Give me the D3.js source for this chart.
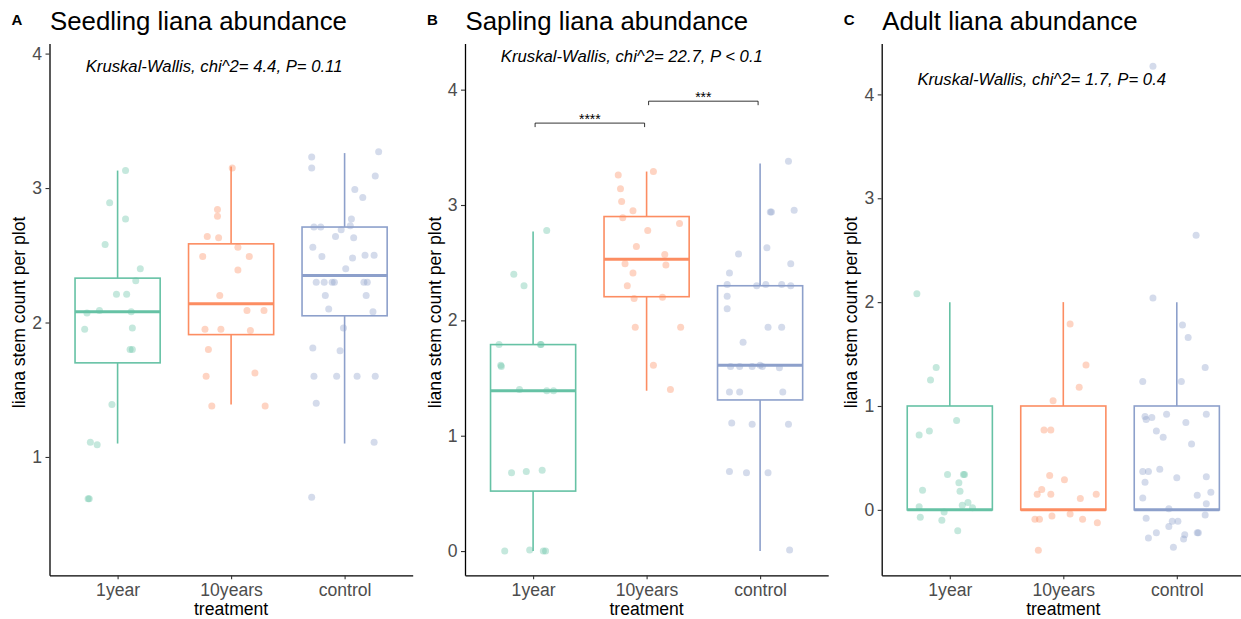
<!DOCTYPE html>
<html>
<head>
<meta charset="utf-8">
<script src="https://cdn.jsdelivr.net/npm/d3@7"></script>
<style>
  body { margin: 0; background: #fff; }
  svg { display: block; font-family: Arial, "Liberation Sans", sans-serif; }
</style>
</head>
<body>
<svg width="1241" height="619"></svg>
<script>
// categories and colours (Set2)
const categories = ["1year", "10years", "control"];
const boxColors = ["#66C2A5", "#FC8D62", "#8DA0CB"];

// box stats per category: [lower whisker, q1, median, q3, upper whisker]
const seedlingBoxes = [
  [1.10, 1.70, 2.08, 2.33, 3.13],
  [1.39, 1.91, 2.14, 2.585, 3.16],
  [1.10, 2.05, 2.35, 2.71, 3.26]
];
const saplingBoxes = [
  [0, 0.52, 1.39, 1.79, 2.77],
  [1.39, 2.205, 2.53, 2.90, 3.29],
  [0, 1.31, 1.61, 2.30, 3.36]
];
const adultBoxes = [
  [0, 0, 0, 1, 2],
  [0, 0, 0, 1, 2],
  [0, 0, 0, 1, 2]
];

// jittered points: [category index, jitter offset, value]
const seedlingPoints = [
  [0, 0.07, 3.13], [0, -0.07, 2.89], [0, 0.07, 2.77], [0, -0.11, 2.58], [0, 0.20, 2.40],
  [0, 0.16, 2.31], [0, -0.01, 2.21], [0, 0.08, 2.21], [0, -0.27, 2.07], [0, -0.16, 2.09],
  [0, 0.12, 2.08], [0, -0.29, 1.95], [0, 0.13, 1.96], [0, 0.11, 1.80], [0, 0.13, 1.80],
  [0, -0.05, 1.39], [0, -0.24, 1.11], [0, -0.18, 1.09], [0, -0.26, 0.69], [0, -0.25, 0.69],
  [1, 0.01, 3.15], [1, -0.12, 2.84], [1, -0.12, 2.79], [1, -0.21, 2.64], [1, -0.11, 2.63],
  [1, 0.06, 2.56], [1, -0.25, 2.49], [1, 0.16, 2.49], [1, 0.06, 2.39], [1, -0.10, 2.20],
  [1, 0.14, 2.09], [1, 0.29, 2.09], [1, -0.23, 1.95], [1, -0.09, 1.95], [1, 0.17, 1.94],
  [1, -0.20, 1.80], [1, -0.22, 1.60], [1, 0.21, 1.625], [1, -0.17, 1.38], [1, 0.30, 1.38],
  [2, -0.29, 3.23], [2, -0.29, 3.15], [2, 0.30, 3.27], [2, 0.27, 3.09], [2, 0.09, 2.99],
  [2, 0.16, 2.93], [2, 0.06, 2.77], [2, -0.27, 2.71], [2, -0.21, 2.71], [2, -0.03, 2.69],
  [2, 0.05, 2.72], [2, -0.08, 2.64], [2, 0.08, 2.63], [2, -0.28, 2.56], [2, -0.20, 2.49],
  [2, 0.07, 2.48], [2, 0.18, 2.50], [2, 0.26, 2.50], [2, 0.01, 2.40], [2, -0.25, 2.30],
  [2, -0.18, 2.30], [2, -0.11, 2.30], [2, -0.09, 2.30], [2, 0.17, 2.30], [2, 0.20, 2.30],
  [2, -0.17, 2.20], [2, 0.19, 2.20], [2, -0.14, 2.10], [2, 0.25, 2.08], [2, -0.01, 1.96],
  [2, -0.28, 1.81], [2, -0.04, 1.79], [2, -0.27, 1.60], [2, -0.07, 1.60], [2, 0.11, 1.60],
  [2, 0.27, 1.60], [2, -0.25, 1.40], [2, 0.26, 1.11], [2, -0.29, 0.70]
];
const saplingPoints = [
  [0, 0.12, 2.78], [0, -0.17, 2.40], [0, -0.08, 2.30], [0, -0.30, 1.79], [0, 0.065, 1.79],
  [0, 0.07, 1.79], [0, -0.28, 1.60], [0, -0.285, 1.61], [0, -0.12, 1.40], [0, 0.12, 1.39],
  [0, 0.18, 1.39], [0, -0.19, 0.68], [0, -0.06, 0.69], [0, 0.08, 0.70], [0, -0.25, 0.0],
  [0, -0.03, 0.01], [0, 0.09, 0.0], [0, 0.11, 0.0],
  [1, -0.25, 3.26], [1, 0.06, 3.29], [1, -0.23, 3.14], [1, -0.22, 3.03], [1, -0.12, 2.95],
  [1, -0.21, 2.89], [1, 0.29, 2.84], [1, 0.01, 2.78], [1, -0.09, 2.64], [1, 0.16, 2.57],
  [1, -0.19, 2.49], [1, 0.17, 2.48], [1, -0.12, 2.41], [1, -0.17, 2.30], [1, -0.11, 2.19],
  [1, 0.14, 2.20], [1, -0.10, 1.94], [1, 0.30, 1.94], [1, 0.06, 1.61], [1, 0.21, 1.40],
  [2, 0.25, 3.38], [2, 0.09, 2.94], [2, 0.10, 2.94], [2, 0.30, 2.955], [2, 0.06, 2.63],
  [2, -0.19, 2.575], [2, 0.27, 2.49], [2, -0.27, 2.41], [2, -0.29, 2.31], [2, -0.03, 2.30],
  [2, 0.05, 2.31], [2, 0.19, 2.31], [2, 0.27, 2.30], [2, -0.29, 2.21], [2, -0.29, 2.10],
  [2, 0.07, 1.94], [2, 0.19, 1.94], [2, -0.15, 1.81], [2, -0.26, 1.60], [2, -0.18, 1.60],
  [2, -0.07, 1.60], [2, 0.00, 1.61], [2, 0.02, 1.60], [2, 0.17, 1.59], [2, -0.27, 1.38],
  [2, -0.18, 1.38], [2, 0.20, 1.38], [2, -0.25, 1.11], [2, -0.07, 1.10], [2, 0.25, 1.10],
  [2, -0.27, 0.69], [2, -0.12, 0.68], [2, 0.07, 0.68], [2, 0.26, 0.01]
];
const adultPoints = [
  [0, -0.29, 2.08], [0, -0.12, 1.37], [0, -0.17, 1.25], [0, 0.06, 0.86], [0, -0.27, 0.72],
  [0, -0.18, 0.76], [0, -0.02, 0.34], [0, 0.12, 0.34], [0, 0.13, 0.34], [0, 0.08, 0.26],
  [0, -0.24, 0.19], [0, 0.09, 0.18], [0, -0.27, 0.03], [0, 0.11, 0.045], [0, 0.16, 0.07],
  [0, 0.20, 0.02], [0, -0.05, -0.02], [0, -0.26, -0.07], [0, -0.07, -0.10], [0, 0.07, -0.20],
  [1, 0.06, 1.79], [1, 0.20, 1.395], [1, 0.14, 1.18], [1, -0.09, 1.05], [1, -0.17, 0.77],
  [1, -0.11, 0.77], [1, -0.12, 0.33], [1, 0.01, 0.29], [1, -0.19, 0.195], [1, -0.23, 0.15],
  [1, -0.11, 0.15], [1, 0.15, 0.11], [1, 0.29, 0.15], [1, -0.25, -0.09], [1, -0.21, -0.09],
  [1, -0.10, -0.06], [1, 0.06, -0.04], [1, 0.17, -0.09], [1, 0.30, -0.125], [1, -0.22, -0.39],
  [2, -0.21, 4.27], [2, 0.17, 2.645], [2, -0.21, 2.04], [2, 0.05, 1.78], [2, 0.10, 1.66],
  [2, 0.25, 1.37], [2, -0.30, 1.235], [2, 0.04, 1.235], [2, -0.28, 0.90], [2, -0.27, 0.87],
  [2, -0.22, 0.89], [2, -0.09, 0.92], [2, 0.26, 0.92], [2, 0.08, 0.84], [2, -0.18, 0.76],
  [2, -0.12, 0.70], [2, 0.13, 0.635], [2, -0.30, 0.37], [2, -0.25, 0.37], [2, -0.15, 0.39],
  [2, 0.00, 0.31], [2, 0.26, 0.32], [2, -0.28, 0.265], [2, 0.18, 0.14], [2, 0.30, 0.17],
  [2, -0.30, 0.115], [2, 0.26, 0.06], [2, -0.07, 0.01], [2, 0.25, -0.05], [2, -0.27, -0.08],
  [2, -0.04, -0.11], [2, 0.01, -0.11], [2, -0.07, -0.16], [2, -0.18, -0.22], [2, 0.18, -0.22],
  [2, 0.19, -0.22], [2, -0.25, -0.27], [2, 0.07, -0.24], [2, 0.06, -0.28], [2, -0.03, -0.36]
];

// y axis limits and ticks
const seedlingDomain = [0.12, 4.075];
const saplingDomain = [-0.21, 4.40];
const adultDomain = [-0.63, 4.49];
const seedlingTicks = [1, 2, 3, 4];
const otherTicks = [0, 1, 2, 3, 4];

// significance brackets for sapling: [from cat, to cat, y, label]
const saplingBrackets = [
  [0, 1, 3.71, "****"],
  [1, 2, 3.90, "***"]
];

const panels = [
  { tag: "A", title: "Seedling liana abundance", left: 49.5, boxes: seedlingBoxes, points: seedlingPoints,
    domain: seedlingDomain, ticks: seedlingTicks, note: "Kruskal-Wallis, chi^2= 4.4, P= 0.11", noteAt: [1.85, 3.86], brackets: [] },
  { tag: "B", title: "Sapling liana abundance", left: 465, boxes: saplingBoxes, points: saplingPoints,
    domain: saplingDomain, ticks: otherTicks, note: "Kruskal-Wallis, chi^2= 22.7, P < 0.1", noteAt: [1.87, 4.24], brackets: saplingBrackets },
  { tag: "C", title: "Adult liana abundance", left: 881.7, boxes: adultBoxes, points: adultPoints,
    domain: adultDomain, ticks: otherTicks, note: "Kruskal-Wallis, chi^2= 1.7, P= 0.4", noteAt: [1.81, 4.09], brackets: [] }
];

const svg = d3.select("svg");
const plotTop = 43.5, plotBottom = 575.3, step = 113.5;
const labelSize = 17.6;

panels.forEach(p => drawPanel(p));

function drawPanel(p) {
  const g = svg.append("g");
  const x = d3.scaleLinear().domain([0.4, 3.6]).range([p.left, p.left + 3.2 * step]);
  const y = d3.scaleLinear().domain(p.domain).range([plotBottom, plotTop]);
  const halfW = 0.375;

  // title and tag
  g.append("text").attr("x", p.left - 38).attr("y", 24.5).attr("font-size", 15).attr("font-weight", "bold").text(p.tag);
  g.append("text").attr("x", p.left + 0.5).attr("y", 30).attr("font-size", 25.8).text(p.title);

  // boxes
  p.boxes.forEach((b, i) => {
    const c = boxColors[i], cx = x(i + 1);
    const bg = g.append("g").attr("stroke", c).attr("fill", "none");
    bg.append("line").attr("x1", cx).attr("x2", cx).attr("y1", y(b[4])).attr("y2", y(b[3])).attr("stroke-width", 1.6);
    bg.append("line").attr("x1", cx).attr("x2", cx).attr("y1", y(b[1])).attr("y2", y(b[0])).attr("stroke-width", 1.6);
    bg.append("rect").attr("x", x(i + 1 - halfW)).attr("width", x(i + 1 + halfW) - x(i + 1 - halfW))
      .attr("y", y(b[3])).attr("height", y(b[1]) - y(b[3])).attr("fill", "#fff").attr("stroke-width", 1.6);
    bg.append("line").attr("x1", x(i + 1 - halfW)).attr("x2", x(i + 1 + halfW))
      .attr("y1", y(b[2])).attr("y2", y(b[2])).attr("stroke-width", 3);
  });

  // points
  g.append("g").selectAll("circle").data(p.points).join("circle")
    .attr("cx", d => x(d[0] + 1 + d[1]))
    .attr("cy", d => y(d[2]))
    .attr("r", 3.5)
    .attr("fill", d => boxColors[d[0]])
    .attr("fill-opacity", 0.38);

  // axes
  const xAxis = g.append("g").attr("transform", `translate(0,${plotBottom})`)
    .call(d3.axisBottom(x).tickValues([1, 2, 3]).tickFormat(d => categories[d - 1]).tickSize(4).tickSizeOuter(0));
  const yAxis = g.append("g").attr("transform", `translate(${p.left},0)`)
    .call(d3.axisLeft(y).tickValues(p.ticks).tickFormat(d3.format("d")).tickSize(4).tickSizeOuter(0));
  [xAxis, yAxis].forEach(a => {
    a.select(".domain").attr("stroke", "#000").attr("stroke-width", 1.3);
    a.selectAll(".tick line").attr("stroke", "#333").attr("stroke-width", 1.1);
    a.selectAll(".tick text").attr("fill", "#4d4d4d").attr("font-size", labelSize)
      .attr("font-family", "Arial, 'Liberation Sans', sans-serif");
  });
  xAxis.selectAll(".tick text").attr("dy", "0.71em").attr("y", 8);
  yAxis.selectAll(".tick text").attr("x", -7.5);

  g.append("text").attr("x", x(2)).attr("y", 615).attr("text-anchor", "middle").attr("font-size", labelSize).text("treatment");
  g.append("text").attr("transform", `translate(${p.left - 24.5},${(plotTop + plotBottom) / 2 + 3}) rotate(-90)`)
    .attr("text-anchor", "middle").attr("font-size", labelSize).text("liana stem count per plot");

  // test annotation
  g.append("text").attr("x", x(p.noteAt[0])).attr("y", y(p.noteAt[1])).attr("text-anchor", "middle")
    .attr("font-size", 16.7).attr("font-style", "italic").text(p.note);

  // brackets
  p.brackets.forEach(br => {
    const x1 = x(br[0] + 1) + 2, x2 = x(br[1] + 1) - 2, yy = y(br[2]);
    g.append("path").attr("d", `M${x1},${yy + 4}V${yy}H${x2}V${yy + 4}`)
      .attr("fill", "none").attr("stroke", "#000").attr("stroke-width", 0.8);
    g.append("text").attr("x", (x1 + x2) / 2).attr("y", yy + 1).attr("text-anchor", "middle")
      .attr("font-size", 14).text(br[3]);
  });
}
</script>
</body>
</html>
